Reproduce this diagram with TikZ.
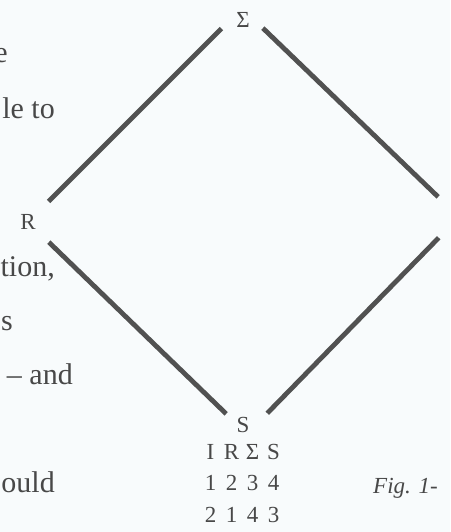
\documentclass[tikz,border=0pt]{standalone}
\usepackage{fontspec}
\setmainfont{Liberation Serif}
\definecolor{paper}{RGB}{248,251,252}
\definecolor{ink}{RGB}{72,72,72}
\newcommand{\cell}[1]{\makebox[21pt]{#1}}
\begin{document}
\begin{tikzpicture}[x=1pt, y=-1pt,
    edge/.style={line width=4.8pt, draw=ink!95, shorten <=29pt, shorten >=29pt},
    lbl/.style={text=ink, font=\fontsize{23}{27}\selectfont, inner sep=0pt},
    margin/.style={text=ink, font=\fontsize{30}{34}\selectfont, anchor=base east, inner sep=0pt}]
    \fill[paper] (0,0) rectangle (450,532);
    \useasboundingbox (0,0) rectangle (450,532);
    \clip (0,0) rectangle (450,532);

    % Margin of the page text
    \node[margin] (m1) at (8,63) {e};
    \node[margin] (m2) at (55,118) {le to};
    \node[margin] (m3) at (55,276) {tion,};
    \node[margin] (m4) at (13,330) {s};
    \node[margin] (m5) at (73,384) {– and};
    \node[margin] (m6) at (55,492) {ould};

    % Corners of the diamond
    \coordinate (top) at (242,8);
    \coordinate (left) at (28,222);
    \coordinate (bottom) at (247,434);
    \coordinate (right) at (459,217);

    % Diamond
    \draw[edge] (top) -- (left);
    \draw[edge] (top) -- (right);
    \draw[edge] (left) -- (bottom);
    \draw[edge] (bottom) -- (right);

    % Labels
    \node[lbl] (sigma) at (243,20) {Σ};
    \node[lbl] (r) at (28,222) {R};
    \node[lbl] (s) at (243,425) {S};

    % Table of the group
    \node[lbl, anchor=north, align=center, font=\fontsize{23}{31.5}\selectfont]
        (tbl) at (242,444) {\cell{I}\cell{R}\cell{Σ}\cell{S}\\
                            \cell{1}\cell{2}\cell{3}\cell{4}\\
                            \cell{2}\cell{1}\cell{4}\cell{3}};
    \node[lbl, anchor=west] (fig) at (373,488) {\textit{Fig. 1-}};
\end{tikzpicture}
\end{document}
